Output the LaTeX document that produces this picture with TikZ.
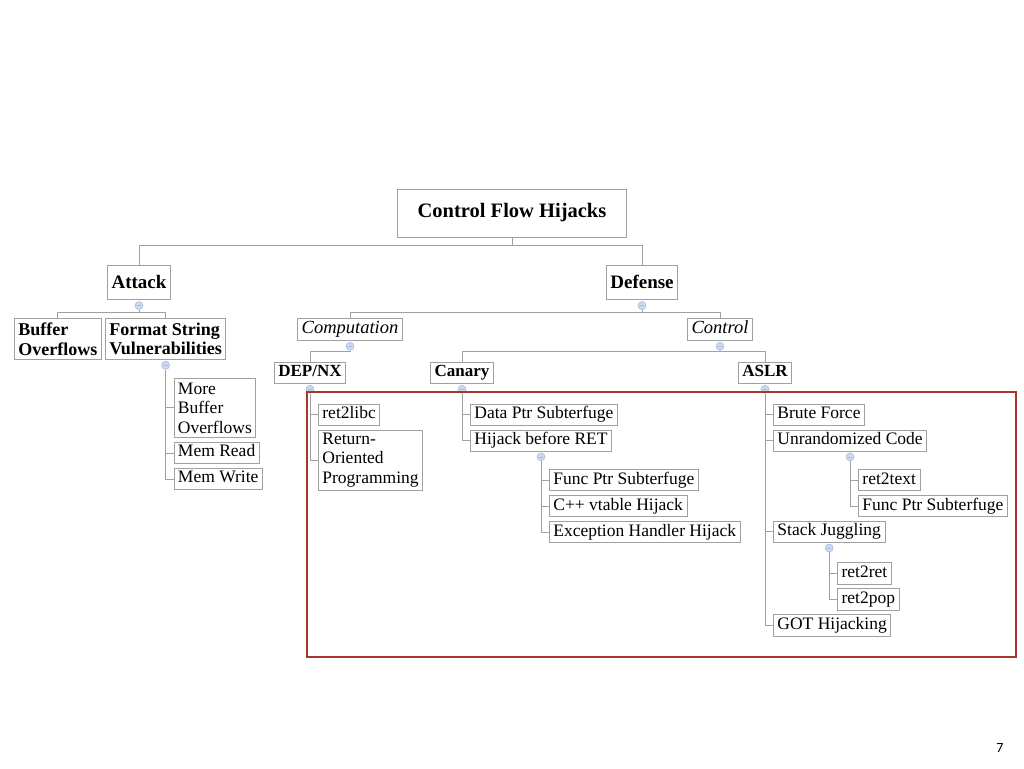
\documentclass[tikz,border=0pt]{standalone}
\usepackage{fontspec}
\setmainfont{Liberation Serif}
\newfontfamily\pagefont{Carlito}
\usepackage{xcolor}
\usetikzlibrary{positioning,calc}
\definecolor{boxgray}{HTML}{A0A0A0}
\definecolor{knobfill}{HTML}{CCDAF0}
\definecolor{knobline}{HTML}{A4BCE0}
\definecolor{framered}{HTML}{A8342A}

\begin{document}
\begin{tikzpicture}[
        x=1pt, y=-1pt,
        box/.style={draw=boxgray, fill=white, line width=0.8pt, inner xsep=4pt, inner ysep=3pt},
        leaf/.style={box, font=\fontsize{17.5}{19.5}\selectfont, text height=11.5pt, text depth=3.7pt},
        multi/.style={box, font=\fontsize{17.5}{19.5}\selectfont, align=left, inner ysep=4.5pt},
        head/.style={box, font=\bfseries\fontsize{17}{19.5}\selectfont, text height=11.5pt, text depth=3.7pt},
        bmulti/.style={box, font=\bfseries\fontsize{18}{19.5}\selectfont, align=left, inner ysep=4.5pt},
        topic/.style={box, font=\bfseries\fontsize{19}{22}\selectfont, minimum height=34pt},
        branch/.style={box, font=\itshape\fontsize{18.5}{21}\selectfont, text height=12pt, text depth=4.2pt},
        knob/.style={circle, draw=knobline, fill=knobfill, line width=0.6pt, minimum size=8pt, inner sep=0pt,
            path picture={\draw[knobline, line width=0.5pt] ([xshift=-2pt]path picture bounding box.center) -- ([xshift=2pt]path picture bounding box.center);}},
        link/.style={draw=boxgray, line width=0.8pt}
    ]
        \useasboundingbox (0,0) rectangle (1024,768);

        \node[box, font=\bfseries\fontsize{20.5}{24}\selectfont, minimum width=229pt, minimum height=48pt] (root) at (512,213) {Control Flow Hijacks};
        \node[topic, anchor=north] (attack) at (139,265) {Attack};
        \node[topic, anchor=north] (defense) at (642,265) {Defense};
        \node[knob, below=1.5pt of attack] (attack-k) {};
        \node[knob, below=1.5pt of defense] (defense-k) {};

        \node[bmulti, anchor=north west] (bof) at (14,318) {Buffer\\Overflows};
        \node[bmulti, anchor=north west] (fsv) at (105,318) {Format String\\Vulnerabilities};
        \node[knob, below=1pt of fsv] (fsv-k) {};
        \node[multi, anchor=north west] (mbo) at ($(fsv-k.south)+(8,8)$) {More\\Buffer\\Overflows};
        \node[leaf, below=4pt of mbo.south west, anchor=north west] (memr) {Mem Read};
        \node[leaf, below=4pt of memr.south west, anchor=north west] (memw) {Mem Write};

        \node[branch, anchor=north] (comp) at (350,318) {Computation};
        \node[branch, anchor=north] (ctrl) at (720,318) {Control};
        \node[knob, below=1pt of comp] (comp-k) {};
        \node[knob, below=1pt of ctrl] (ctrl-k) {};

        \node[head, anchor=north] (depnx) at (310,362) {DEP/NX};
        \node[head, anchor=north] (canary) at (462,362) {Canary};
        \node[head, anchor=north] (aslr) at (765,362) {ASLR};
        \node[knob, below=1pt of depnx] (dep-k) {};
        \node[knob, below=1pt of canary] (can-k) {};
        \node[knob, below=1pt of aslr] (aslr-k) {};

        \node[leaf, anchor=north west] (r2l) at ($(dep-k.south)+(8,10)$) {ret2libc};
        \node[multi, inner ysep=3pt, below=4pt of r2l.south west, anchor=north west] (rop) {Return-\\Oriented\\Programming};

        \node[leaf, anchor=north west] (dps) at ($(can-k.south)+(8,10)$) {Data Ptr Subterfuge};
        \node[leaf, below=4pt of dps.south west, anchor=north west] (hbr) {Hijack before RET};
        \node[knob, below=1pt of hbr] (hbr-k) {};
        \node[leaf, anchor=north west] (fps) at ($(hbr-k.south)+(8,8)$) {Func Ptr Subterfuge};
        \node[leaf, below=4pt of fps.south west, anchor=north west] (vtab) {C++ vtable Hijack};
        \node[leaf, below=4pt of vtab.south west, anchor=north west] (ehh) {Exception Handler Hijack};

        \node[leaf, anchor=north west] (brute) at ($(aslr-k.south)+(8,10)$) {Brute Force};
        \node[leaf, below=4pt of brute.south west, anchor=north west] (unr) {Unrandomized Code};
        \node[knob, below=1pt of unr] (unr-k) {};
        \node[leaf, anchor=north west] (r2t) at ($(unr-k.south)+(8,8)$) {ret2text};
        \node[leaf, below=4pt of r2t.south west, anchor=north west] (fps2) {Func Ptr Subterfuge};
        \node[leaf, anchor=north west] (stack) at ($(unr.south west |- fps2.south)+(0,3.5)$) {Stack Juggling};
        \node[knob, below=1pt of stack] (stack-k) {};
        \node[leaf, anchor=north west] (r2r) at ($(stack-k.south)+(8,10)$) {ret2ret};
        \node[leaf, below=4pt of r2r.south west, anchor=north west] (r2p) {ret2pop};
        \node[leaf, anchor=north west] (got) at ($(stack.south west |- r2p.south)+(0,4)$) {GOT Hijacking};

        \draw[link] (root.south) -- ++(0,8) -| (attack.north);
        \draw[link] (root.south) -- ++(0,8) -| (defense.north);
        \draw[link] (attack-k.south) -- ++(0,2) -| (bof.north);
        \draw[link] (attack-k.south) -- ++(0,2) -| (fsv.north);
        \draw[link] (fsv-k.south) |- (mbo.west);
        \draw[link] (fsv-k.south) |- (memr.west);
        \draw[link] (fsv-k.south) |- (memw.west);
        \draw[link] (defense-k.south) -- ++(0,2) -| (comp.north);
        \draw[link] (defense-k.south) -- ++(0,2) -| (ctrl.north);
        \draw[link] (comp-k.south) -- ++(0,1) -| (depnx.north);
        \draw[link] (ctrl-k.south) -- ++(0,1) -| (canary.north);
        \draw[link] (ctrl-k.south) -- ++(0,1) -| (aslr.north);
        \draw[link] (dep-k.south) |- (r2l.west);
        \draw[link] (dep-k.south) |- (rop.west);
        \draw[link] (can-k.south) |- (dps.west);
        \draw[link] (can-k.south) |- (hbr.west);
        \draw[link] (hbr-k.south) |- (fps.west);
        \draw[link] (hbr-k.south) |- (vtab.west);
        \draw[link] (hbr-k.south) |- (ehh.west);
        \draw[link] (aslr-k.south) |- (brute.west);
        \draw[link] (aslr-k.south) |- (unr.west);
        \draw[link] (aslr-k.south) |- (stack.west);
        \draw[link] (aslr-k.south) |- (got.west);
        \draw[link] (unr-k.south) |- (r2t.west);
        \draw[link] (unr-k.south) |- (fps2.west);
        \draw[link] (stack-k.south) |- (r2r.west);
        \draw[link] (stack-k.south) |- (r2p.west);

        \draw[framered, line width=2.5pt] (307,392) rectangle (1016,657);
        \node[font=\pagefont\fontsize{14}{16}\selectfont] (pagenum) at (1000,748) {7};
    \end{tikzpicture}
\end{document}
